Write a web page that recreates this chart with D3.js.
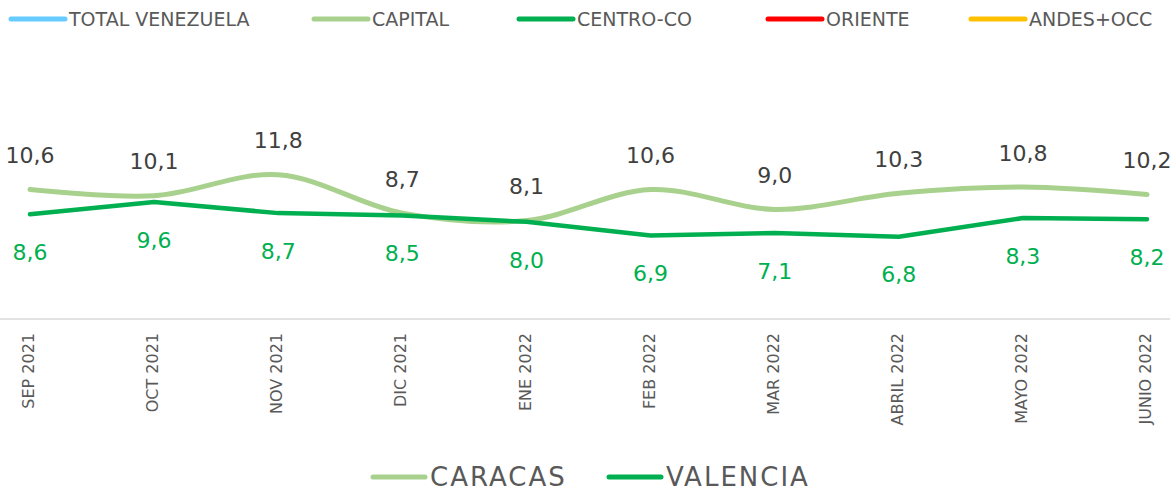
<!DOCTYPE html>
<html>
<head>
<meta charset="utf-8">
<script src="https://cdn.jsdelivr.net/npm/d3@7"></script>
<style>
  body { margin: 0; background: #fff; }
  text { font-family: "DejaVu Sans", sans-serif; }
</style>
</head>
<body>
<div class="graph"></div>
<script>
// data
var months = ["SEP 2021", "OCT 2021", "NOV 2021", "DIC 2021", "ENE 2022",
              "FEB 2022", "MAR 2022", "ABRIL 2022", "MAYO 2022", "JUNIO 2022"];
var caracas = [10.6, 10.1, 11.8, 8.7, 8.1, 10.6, 9.0, 10.3, 10.8, 10.2];
var valencia = [8.6, 9.6, 8.7, 8.5, 8.0, 6.9, 7.1, 6.8, 8.3, 8.2];
var topLegend = ["TOTAL VENEZUELA", "CAPITAL", "CENTRO-CO", "ORIENTE", "ANDES+OCC"];
var topLegendColors = ["#66CCFF", "#A9D18E", "#00B050", "#FF0000", "#FFC000"];
var bottomLegend = ["CARACAS", "VALENCIA"];

var width = 1170;
var height = 492;
var gray = "#595959";
var lightGreen = "#A9D18E";
var green = "#00B050";

var svg = d3.select(".graph").append("svg")
  .attr("width", width)
  .attr("height", height);

var x = d3.scalePoint()
  .domain(months)
  .range([30, 1147]);

var y = d3.scaleLinear()
  .domain([0, 20])
  .range([321, 73]);

// baseline
svg.append("line")
  .attr("x1", 0).attr("x2", width)
  .attr("y1", 319).attr("y2", 319)
  .attr("stroke", "#D9D9D9")
  .attr("stroke-width", 1.5);

// month labels
var xAxisGroup = svg.append("g")
  .attr("transform", "translate(0,319)");
var xAxis = d3.axisBottom(x).tickSize(0).tickPadding(0);
xAxisGroup.call(xAxis);
xAxisGroup.select(".domain").remove();
xAxisGroup.selectAll("text")
  .attr("transform", "rotate(-90)")
  .attr("x", -14)
  .attr("y", -2)
  .attr("dy", "0.35em")
  .style("text-anchor", "end")
  .style("font-family", "'DejaVu Sans', sans-serif")
  .style("font-size", "16px")
  .attr("fill", gray);

var smoothLine = d3.line()
  .x(function (d, i) { return x(months[i]); })
  .y(function (d) { return y(d); })
  .curve(d3.curveCatmullRom.alpha(0.5));

var straightLine = d3.line()
  .x(function (d, i) { return x(months[i]); })
  .y(function (d) { return y(d); });

svg.append("path")
  .datum(caracas)
  .attr("fill", "none")
  .attr("stroke", lightGreen)
  .attr("stroke-width", 5)
  .attr("stroke-linecap", "round")
  .attr("d", smoothLine);

svg.append("path")
  .datum(valencia)
  .attr("fill", "none")
  .attr("stroke", green)
  .attr("stroke-width", 4.5)
  .attr("stroke-linecap", "round")
  .attr("stroke-linejoin", "round")
  .attr("d", straightLine);

function fmt(v) { return v.toFixed(1).replace(".", ","); }

svg.selectAll(".labCaracas")
  .data(caracas)
  .enter().append("text")
  .attr("class", "labCaracas")
  .attr("x", function (d, i) { return x(months[i]); })
  .attr("y", function (d) { return y(d) - 34; })
  .attr("dy", "0.35em")
  .attr("text-anchor", "middle")
  .attr("fill", "#404040")
  .style("font-size", "22px")
  .text(fmt);

svg.selectAll(".labValencia")
  .data(valencia)
  .enter().append("text")
  .attr("class", "labValencia")
  .attr("x", function (d, i) { return x(months[i]); })
  .attr("y", function (d) { return y(d) + 38; })
  .attr("dy", "0.35em")
  .attr("text-anchor", "middle")
  .attr("fill", green)
  .style("font-size", "22px")
  .text(fmt);

// top legend
var topX = [11, 314, 519, 768, 971];
var topLeg = svg.selectAll(".topLeg")
  .data(topLegend)
  .enter().append("g")
  .attr("class", "topLeg")
  .attr("transform", function (d, i) { return "translate(" + topX[i] + ",19)"; });
topLeg.append("line")
  .attr("x1", 0).attr("x2", 54)
  .attr("stroke", function (d, i) { return topLegendColors[i]; })
  .attr("stroke-width", 5)
  .attr("stroke-linecap", "round");
topLeg.append("text")
  .attr("x", 58)
  .attr("dy", "0.36em")
  .attr("fill", gray)
  .style("font-size", "19px")
  .text(function (d) { return d; });

// bottom legend
var botX = [373, 609];
var botColors = [lightGreen, green];
var botLeg = svg.selectAll(".botLeg")
  .data(bottomLegend)
  .enter().append("g")
  .attr("class", "botLeg")
  .attr("transform", function (d, i) { return "translate(" + botX[i] + ",477)"; });
botLeg.append("line")
  .attr("x1", 0).attr("x2", 52)
  .attr("stroke", function (d, i) { return botColors[i]; })
  .attr("stroke-width", 5)
  .attr("stroke-linecap", "round");
botLeg.append("text")
  .attr("x", 57)
  .attr("dy", "0.36em")
  .attr("fill", gray)
  .style("font-size", "26px")
  .style("letter-spacing", "2px")
  .text(function (d) { return d; });
</script>
</body>
</html>
